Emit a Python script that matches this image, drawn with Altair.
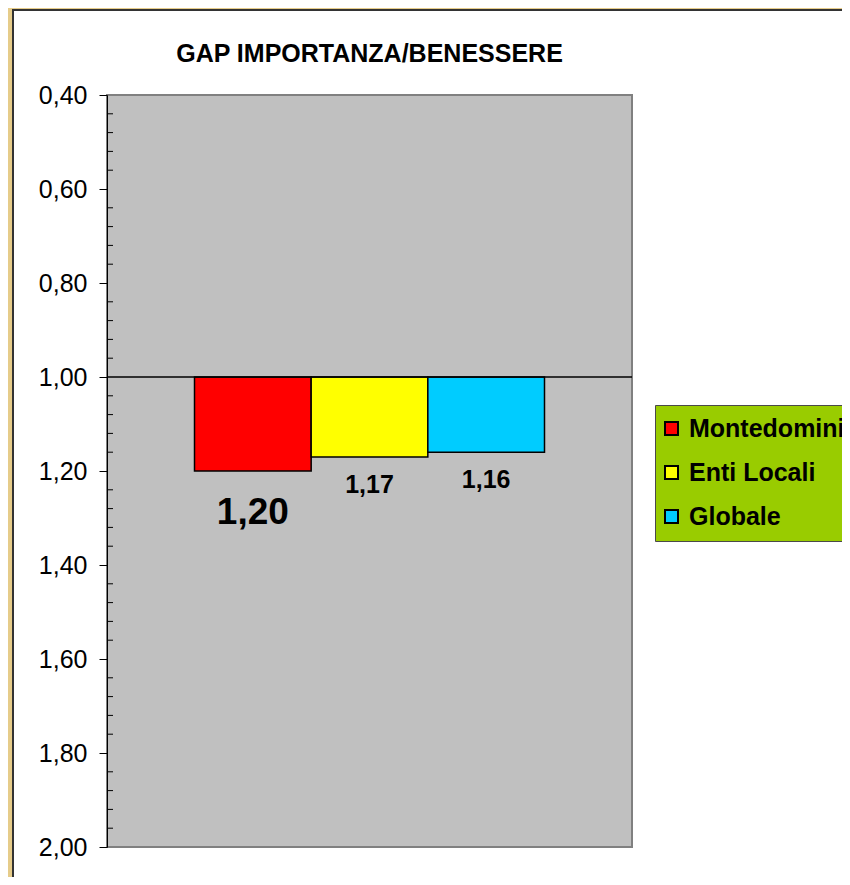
import altair as alt
import pandas as pd

# ---- data ----
series = ["Montedomini", "Enti Locali", "Globale"]
values = [1.20, 1.17, 1.16]
value_labels = ["1,20", "1,17", "1,16"]
colors = ["#FF0000", "#FFFF00", "#00CCFF"]
major_ticks = [0.40, 0.60, 0.80, 1.00, 1.20, 1.40, 1.60, 1.80, 2.00]
minor_ticks = [round(0.40 + 0.04 * i, 2) for i in range(41) if i % 5 != 0]
baseline = 1.00
title_text = "GAP IMPORTANZA/BENESSERE"

FONT = "Liberation Sans"
W, H = 525, 752

df = pd.DataFrame({"serie": series, "value": values, "label": value_labels})
minor_df = pd.DataFrame({"tick": minor_ticks})
one = pd.DataFrame({"k": [0]})

yscale = alt.Scale(domain=[0.4, 2.0], reverse=True, nice=False, zero=False)
yaxis = alt.Axis(
    values=major_ticks,
    labelExpr="replace(format(datum.value, '.2f'), '.', ',')",
    title=None, grid=False,
    domainColor="black", domainWidth=1,
    tickColor="black", tickSize=8, tickWidth=1,
    labelFont=FONT, labelFontSize=25, labelColor="black", labelPadding=12,
    zindex=1,
)
xscale = alt.Scale(domain=series, paddingInner=0, paddingOuter=0.75)
xenc = alt.X("serie:N", scale=xscale, axis=None, sort=series)

white = alt.Chart(one).mark_rect(fill="white", stroke="#333333", strokeWidth=2).encode(
    x=alt.value(-94), x2=alt.value(W + 300), y=alt.value(-85), y2=alt.value(H + 200)
)
plot_bg = alt.Chart(one).mark_rect(fill="#C0C0C0", stroke="#808080", strokeWidth=2).encode(
    x=alt.value(0), x2=alt.value(W), y=alt.value(0), y2=alt.value(H)
)
minor = alt.Chart(minor_df).mark_rule(color="black", strokeWidth=1).encode(
    y=alt.Y("tick:Q", scale=yscale, axis=yaxis), x=alt.value(0), x2=alt.value(6)
)
bars = alt.Chart(df).mark_bar(stroke="black", strokeWidth=1.5).encode(
    x=xenc,
    y=alt.Y("value:Q", scale=yscale, axis=yaxis),
    y2=alt.datum(baseline),
    color=alt.Color(
        "serie:N",
        scale=alt.Scale(domain=series, range=colors),
        legend=alt.Legend(
            title=None, orient="none", legendX=548, legendY=310,
            fillColor="#99CC00", strokeColor="#4A4A4A", padding=11,
            symbolType="square", symbolSize=169, symbolOffset=-7,
            symbolStrokeColor="black", symbolStrokeWidth=2,
            labelFont=FONT, labelFontSize=25, labelFontWeight="bold",
            labelColor="black", labelOffset=5, rowPadding=18, labelLimit=400,
            zindex=1,
        ),
    ),
)
base_rule = alt.Chart(one).mark_rule(color="black", strokeWidth=1.5).encode(
    y=alt.datum(baseline)
)
big_label = alt.Chart(df).transform_filter(alt.datum.serie == series[0]).mark_text(
    font=FONT, fontSize=37, fontWeight="bold", color="black",
    baseline="alphabetic", dy=53,
).encode(x=xenc, y=alt.Y("value:Q", scale=yscale, axis=yaxis), text="label:N")
small_labels = alt.Chart(df).transform_filter(alt.datum.serie != series[0]).mark_text(
    font=FONT, fontSize=25, fontWeight="bold", color="black",
    baseline="alphabetic", dy=36,
).encode(x=xenc, y=alt.Y("value:Q", scale=yscale, axis=yaxis), text="label:N")
title_mark = alt.Chart(one).mark_text(
    text=title_text, font=FONT, fontSize=25, fontWeight="bold", color="black",
    baseline="alphabetic", align="center",
).encode(x=alt.value(W / 2), y=alt.value(-33))

chart = alt.layer(
    white, plot_bg, minor, bars, base_rule, big_label, small_labels, title_mark
).properties(
    width=W, height=H,
    autosize="none",
    padding={"left": 99, "top": 87, "right": 210, "bottom": 30},
    background="#E6CC8A",
).configure_view(stroke=None)

chart.save("out.html", embed_options={"renderer": "svg", "actions": False})
